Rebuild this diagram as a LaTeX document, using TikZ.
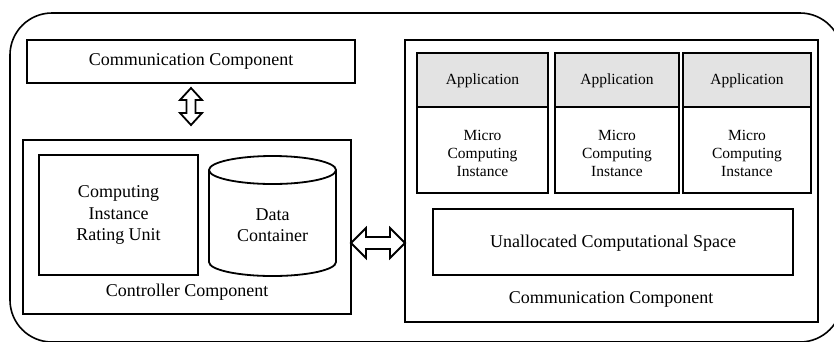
\documentclass[tikz,border=0pt]{standalone}
\usepackage{fontspec}
\setmainfont{Liberation Serif}
\usetikzlibrary{calc}
\begin{document}
\begin{tikzpicture}[x=1pt,y=-1pt,
  box/.style={draw,line width=1.8pt},
  bigtxt/.style={font=\fontsize{18}{21.5}\selectfont,align=center},
  smalltxt/.style={font=\fontsize{15.5}{18}\selectfont,align=center},
  arr/.style={draw,line width=1.8pt,fill=white,line join=miter}]
\useasboundingbox (0,0) rectangle (834,341);
% outer rounded frame
\draw[line width=1.6pt,rounded corners=42] (10,13) rectangle (842,342);
% left side
\draw[box] (27,40) rectangle (355,83);
\node[bigtxt] (comm1) at (191,61.5) {Communication Component};
\draw[box] (23,140) rectangle (351,314);
\coordinate (ctrlE) at (351,243);
\node[bigtxt] (ctrl) at (187,292) {Controller Component};
\draw[box] (39,155) rectangle (198,275);
\node[bigtxt] (ciru) at (118.5,215) {Computing\\Instance\\Rating Unit};
% cylinder
\draw[box] (272.5,170) ellipse[x radius=63.5,y radius=14];
\draw[box] (209,170) -- (209,262) arc[start angle=180,end angle=0,x radius=63.5,y radius=14] -- (336,170);
\node[bigtxt] (data) at (272.5,225) {Data\\Container};
% right side
\draw[box] (405,40) rectangle (818,322);
\coordinate (rightW) at (405,243);
\foreach \xa/\xb/\n in {417/548/a,555/679/b,683/811/c}{
  \draw[box,fill=gray!22] (\xa,53) rectangle (\xb,107);
  \draw[box] (\xa,107) rectangle (\xb,193);
  \node[smalltxt] (app\n) at ({(\xa+\xb)/2},81) {Application};
  \node[smalltxt] (mci\n) at ({(\xa+\xb)/2},153) {Micro\\Computing\\Instance};
}
\draw[box] (433,209) rectangle (793,275);
\node[bigtxt] (unalloc) at (613,243) {Unallocated Computational Space};
\node[bigtxt] (comm2) at (611,299) {Communication Component};
% vertical double arrow
\coordinate (vA) at (191,88);
\coordinate (vB) at (191,125);
\draw[arr] (vA) -- ($(vA)+(11,12)$) -- ($(vA)+(4.5,12)$) -- ($(vB)+(4.5,-12)$) -- ($(vB)+(11,-12)$)
  -- (vB) -- ($(vB)+(-11,-12)$) -- ($(vB)+(-4.5,-12)$) -- ($(vA)+(-4.5,12)$) -- ($(vA)+(-11,12)$) -- cycle;
% horizontal double arrow
\draw[arr] (ctrlE) -- ($(ctrlE)+(15,-15)$) -- ($(ctrlE)+(15,-6)$) -- ($(rightW)+(-15,-6)$) -- ($(rightW)+(-15,-15)$)
  -- (rightW) -- ($(rightW)+(-15,15)$) -- ($(rightW)+(-15,6)$) -- ($(ctrlE)+(15,6)$) -- ($(ctrlE)+(15,15)$) -- cycle;
\end{tikzpicture}
\end{document}
